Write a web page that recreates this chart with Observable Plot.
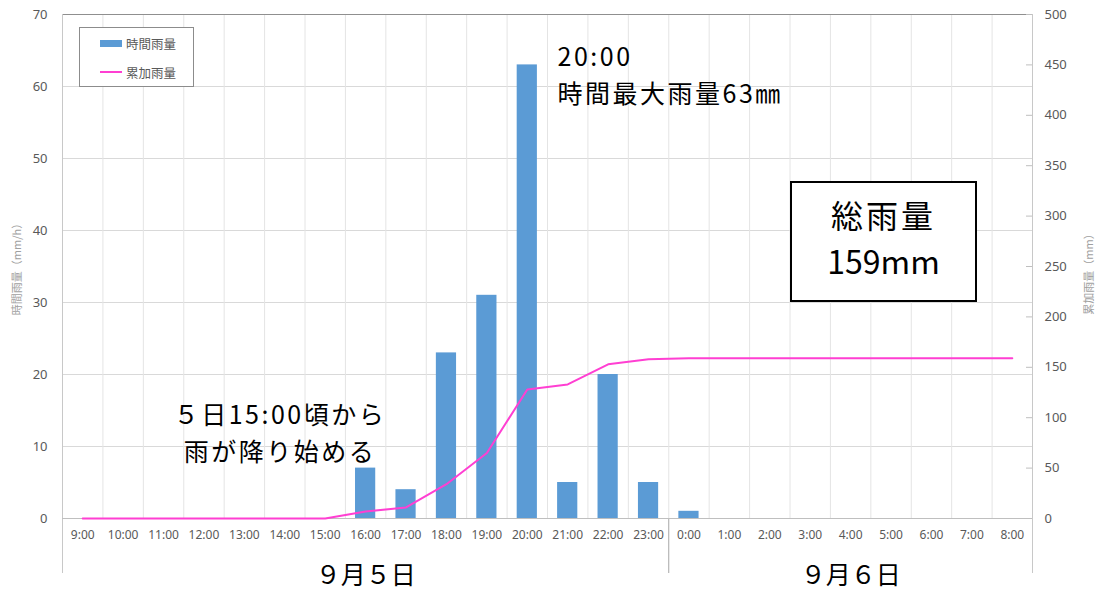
<!DOCTYPE html>
<html><head><meta charset="utf-8">
<script src="https://cdn.jsdelivr.net/npm/d3@7"></script>
<script src="https://cdn.jsdelivr.net/npm/@observablehq/plot@0.6"></script>
<style>
body{margin:0;background:#fff;}
#wrap{position:relative;width:1096px;height:591px;font-family:"Noto Sans CJK JP","Noto Sans",sans-serif;}
#legend{position:absolute;left:79px;top:27px;width:113px;height:58px;border:1px solid #8c8c8c;background:#fff;}
.li{position:absolute;left:20px;height:16px;display:flex;align-items:center;font-size:12.5px;color:#595959;}
.sw{width:22px;margin-right:4px;}
#total{position:absolute;left:790px;top:181px;width:183px;height:109px;border:2px solid #000;background:#fff;text-align:center;font-size:32px;color:#000;line-height:46px;padding-top:8px;box-sizing:content-box;}
#total .c{letter-spacing:3px;}
</style></head><body><div id="wrap"></div>
<script>
const hours = ["9:00","10:00","11:00","12:00","13:00","14:00","15:00","16:00","17:00","18:00","19:00","20:00","21:00","22:00","23:00","0:00","1:00","2:00","3:00","4:00","5:00","6:00","7:00","8:00"];
const hourly = [0,0,0,0,0,0,0,7,4,23,31,63,5,20,5,1,0,0,0,0,0,0,0,0];
const cumulative = [0,0,0,0,0,0,0,7,11,34,65,128,133,153,158,159,159,159,159,159,159,159,159,159];
const leftTicks = [0,10,20,30,40,50,60,70];
const rightTicks = [0,50,100,150,200,250,300,350,400,450,500];
const days = ["９月５日","９月６日"];
const dayFirst = ["9:00","0:00"];
const dayLast = ["23:00","8:00"];
const seriesNames = ["時間雨量","累加雨量"];
const leftTitle = "時間雨量（mm/h）";
const rightTitle = "累加雨量（mm）";
const peakNote = ["20:00","時間最大雨量63㎜"];
const startNote = ["５日15:00頃から","雨が降り始める"];
const totalNote = ["総雨量","159mm"];

const W=1096,H=591,mL=62,mR=64,mT=14,mB=73;
const k = 70/500;
const pxPerUnit = (H-mT-mB)/70;
const below = px => -px/pxPerUnit;
const rows = hours.map((h,i)=>({i,h,rain:hourly[i],cum:cumulative[i]}));
const idx = h => hours.indexOf(h);
const peakI = hourly.indexOf(d3.max(hourly));
const startI = idx("15:00");
const seps = [idx(dayFirst[0])-0.5, idx(dayFirst[1])-0.5, idx(dayLast[1])+0.5];
const font = '"Noto Sans CJK JP","Noto Sans",sans-serif';
const tickFont = '"Noto Sans","Noto Sans CJK JP",sans-serif';

const plot = Plot.plot({
  width:W,height:H,marginLeft:mL,marginRight:mR,marginTop:mT,marginBottom:mB,
  style:{fontFamily:font,background:"transparent",overflow:"visible"},
  x:{type:"linear",domain:[-0.5,hours.length-0.5],axis:null},
  y:{domain:[0,70],axis:null},
  marks:[
    Plot.ruleY(leftTicks.slice(1,-1),{stroke:"#d9d9d9"}),
    Plot.ruleX(d3.range(hours.length-1).map(i=>i+0.5),{stroke:"#e4e4e4"}),
    Plot.ruleY([70],{stroke:"#8f8f8f"}),
    Plot.ruleX([seps[0]],{stroke:"#c8c8c8",y1:below(55),y2:70}),
    Plot.ruleX([seps[1]],{stroke:"#a6a6a6",y1:below(55),y2:0}),
    Plot.ruleX([seps[2]],{stroke:"#c8c8c8",y1:below(55),y2:70}),
    Plot.rectY(rows.filter(d=>d.rain>0),{x1:d=>d.i-0.25,x2:d=>d.i+0.25,y1:0,y2:"rain",fill:"#5b9bd5"}),
    Plot.ruleY([0],{stroke:"#bfbfbf"}),
    Plot.ruleY(rightTicks.map(v=>v*k),{x1:seps[2],x2:seps[2],insetLeft:-6,stroke:"#bfbfbf"}),
    Plot.line(rows,{x:"i",y:d=>d.cum*k,stroke:"#ff3fd2",strokeWidth:2}),
    Plot.axisY(leftTicks,{anchor:"left",tickSize:0,tickPadding:15,fontSize:13,fill:"#595959",label:null,fontFamily:tickFont}),
    Plot.axisY(rightTicks.map(v=>v*k),{anchor:"right",tickSize:0,tickPadding:12,tickFormat:v=>Math.round(v/k),fontSize:13,fill:"#595959",label:null,fontFamily:tickFont}),
    Plot.axisX(d3.range(hours.length),{anchor:"bottom",tickSize:0,tickPadding:12,tickFormat:i=>hours[i],fontSize:12,fill:"#595959",label:null,fontFamily:tickFont}),
    Plot.text([leftTitle],{frameAnchor:"left",dx:-45,rotate:-90,textAnchor:"middle",fontSize:11,fill:"#a0a0a0",text:d=>d}),
    Plot.text([rightTitle],{frameAnchor:"right",dx:57,dy:5,rotate:-90,textAnchor:"middle",fontSize:11,fill:"#a0a0a0",text:d=>d}),
    Plot.text(days,{x:(d,i)=>i===0?(seps[0]+seps[1])/2:(seps[1]+seps[2])/2,y:below(57),text:d=>d,fontSize:25,fill:"#000"}),
    Plot.text([peakNote.join("\n")],{x:peakI+0.75,y:61.9,text:d=>d,textAnchor:"start",lineAnchor:"middle",lineHeight:1.47,fontSize:25,fill:"#000"}),
    Plot.text([startNote.join("\n")],{x:startI-1.12,y:12.2,text:d=>d,textAnchor:"middle",lineAnchor:"middle",lineHeight:1.47,fontSize:25,fill:"#000"})
  ]
});
plot.querySelectorAll("text").forEach(t => {
  const s = t.textContent;
  if (s.includes("雨量63") || s.includes("降り始")) t.setAttribute("letter-spacing", "2.5");
});
const wrap = document.getElementById("wrap");
wrap.appendChild(plot);
const lg = document.createElement("div");
lg.id="legend";
lg.innerHTML = `<div class="li" style="top:7px"><div class="sw" style="height:7px;background:#5b9bd5"></div>${seriesNames[0]}</div>
<div class="li" style="top:36px"><div class="sw" style="height:2px;background:#ff3fd2"></div>${seriesNames[1]}</div>`;
wrap.appendChild(lg);
const tb = document.createElement("div");
tb.id="total";
tb.innerHTML = `<span class="c">${totalNote[0]}</span><br>${totalNote[1]}`;
wrap.appendChild(tb);
</script></body></html>
